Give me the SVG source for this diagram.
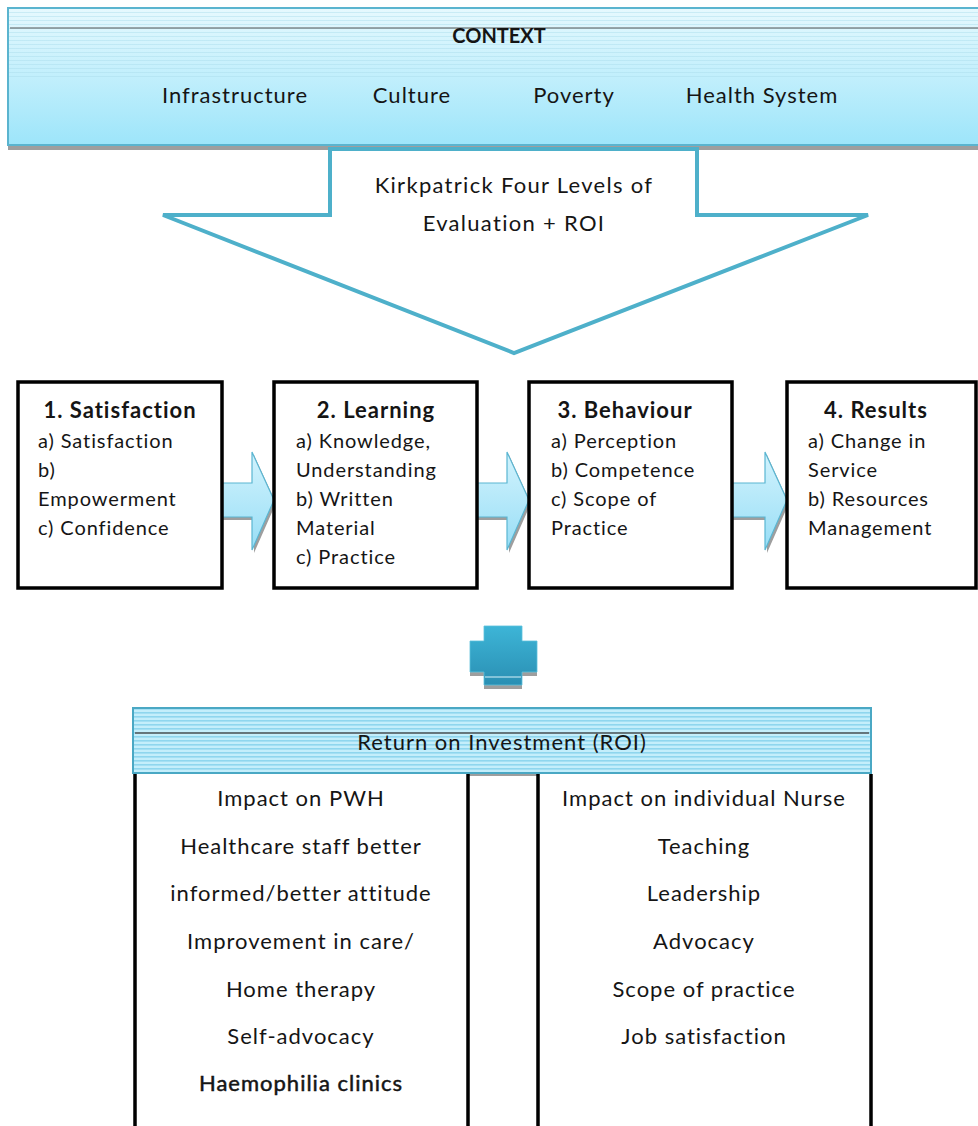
<svg xmlns="http://www.w3.org/2000/svg" width="978" height="1126" viewBox="0 0 978 1126">
<defs>
<linearGradient id="ctxGrad" x1="0" y1="0" x2="0" y2="1">
<stop offset="0" stop-color="#e6f9fe"/>
<stop offset="1" stop-color="#9de5fa"/>
</linearGradient>
<pattern id="fineStripes" x="0" y="0" width="10" height="4" patternUnits="userSpaceOnUse">
<rect x="0" y="0" width="10" height="1" fill="#a8dcec" opacity="0.45"/>
</pattern>
<pattern id="roiStripes" x="0" y="708" width="10" height="4" patternUnits="userSpaceOnUse">
<rect x="0" y="0" width="10" height="4" fill="#c4eefb"/>
<rect x="0" y="0" width="10" height="1.6" fill="#8fd6ee"/>
</pattern>
<linearGradient id="arrowGrad" x1="0" y1="0" x2="0" y2="1">
<stop offset="0" stop-color="#d2f3fd"/>
<stop offset="1" stop-color="#98def6"/>
</linearGradient>
<linearGradient id="plusGrad" x1="0" y1="0" x2="0" y2="1">
<stop offset="0" stop-color="#3db5d7"/>
<stop offset="1" stop-color="#2a8fb3"/>
</linearGradient>
<style>
.t{font-family:Lato,"Open Sans","Liberation Sans",sans-serif;fill:#151515;}
.ctx{font-size:22px;letter-spacing:1px;}
.head{font-size:20px;font-weight:bold;}
.ttl{font-size:22px;font-weight:bold;letter-spacing:1px;}
.itm{font-size:20px;letter-spacing:0.9px;}
.big{font-size:22px;letter-spacing:1px;}
.arr{font-size:22px;letter-spacing:1.3px;}
.med{stroke:#151515;stroke-width:0.5;}
.box{fill:#ffffff;stroke:#000000;stroke-width:3.5;}
.col{stroke:#000000;stroke-width:3.5;fill:none;}
.conn{fill:url(#arrowGrad);stroke:#5ab6d2;stroke-width:1.2;}
.shadow{fill:#9e9e9e;}
</style>
</defs>

<g id="context">
<rect x="8" y="145" width="980" height="5" class="shadow"/>
<rect x="8" y="8" width="980" height="137" fill="url(#ctxGrad)" stroke="#5ab4cf" stroke-width="2"/>
<rect x="9" y="9" width="978" height="70" fill="url(#fineStripes)"/>
<line x1="10" y1="28" x2="978" y2="28" stroke="#555555" stroke-width="1.2"/>
<text class="t head" x="499" y="43" text-anchor="middle">CONTEXT</text>
<text class="t ctx" x="235" y="103" text-anchor="middle">Infrastructure</text>
<text class="t ctx" x="412" y="103" text-anchor="middle">Culture</text>
<text class="t ctx" x="574" y="103" text-anchor="middle">Poverty</text>
<text class="t ctx" x="762" y="103" text-anchor="middle">Health System</text>
</g>

<g id="kirkpatrick-arrow">
<polygon points="330,149 697,149 697,215 868,215 514,353 163,215 330,215" fill="#ffffff" stroke="#4eb0ca" stroke-width="4" stroke-linejoin="miter"/>
<text class="t arr" x="514" y="193" text-anchor="middle" fill="#222">Kirkpatrick Four Levels of</text>
<text class="t arr" x="514" y="231" text-anchor="middle" fill="#222">Evaluation + ROI</text>
</g>

<g id="connectors">
<path class="shadow" d="M222,486 L254,486 L254,455 L276,503 L254,553 L254,520 L222,520 Z"/>
<path class="conn" d="M222,483 L252,483 L252,452 L274,500 L252,550 L252,517 L222,517 Z"/>
<path class="shadow" d="M477,486 L509,486 L509,455 L531,503 L509,553 L509,520 L477,520 Z"/>
<path class="conn" d="M477,483 L507,483 L507,452 L529,500 L507,550 L507,517 L477,517 Z"/>
<path class="shadow" d="M732,486 L767,486 L767,455 L789,503 L767,553 L767,520 L732,520 Z"/>
<path class="conn" d="M732,483 L765,483 L765,452 L787,500 L765,550 L765,517 L732,517 Z"/>
</g>

<g id="level1">
<rect class="box" x="18" y="382" width="204" height="206"/>
<text class="t ttl" x="120" y="418" text-anchor="middle">1. Satisfaction</text>
<text class="t itm" x="38" y="448">a) Satisfaction</text>
<text class="t itm" x="38" y="477">b)</text>
<text class="t itm" x="38" y="506">Empowerment</text>
<text class="t itm" x="38" y="535">c) Confidence</text>
</g>

<g id="level2">
<rect class="box" x="274" y="382" width="203" height="206"/>
<text class="t ttl" x="376" y="418" text-anchor="middle">2. Learning</text>
<text class="t itm" x="296" y="448">a) Knowledge,</text>
<text class="t itm" x="296" y="477">Understanding</text>
<text class="t itm" x="296" y="506">b) Written</text>
<text class="t itm" x="296" y="535">Material</text>
<text class="t itm" x="296" y="564">c) Practice</text>
</g>

<g id="level3">
<rect class="box" x="529" y="382" width="203" height="206"/>
<text class="t ttl" x="625" y="418" text-anchor="middle">3. Behaviour</text>
<text class="t itm" x="551" y="448">a) Perception</text>
<text class="t itm" x="551" y="477">b) Competence</text>
<text class="t itm" x="551" y="506">c) Scope of</text>
<text class="t itm" x="551" y="535">Practice</text>
</g>

<g id="level4">
<rect class="box" x="787" y="382" width="189" height="206"/>
<text class="t ttl" x="876" y="418" text-anchor="middle">4. Results</text>
<text class="t itm" x="808" y="448">a) Change in</text>
<text class="t itm" x="808" y="477">Service</text>
<text class="t itm" x="808" y="506">b) Resources</text>
<text class="t itm" x="808" y="535">Management</text>
</g>

<g id="plus">
<rect x="484" y="684" width="38" height="5" class="shadow"/>
<rect x="470" y="672" width="67" height="4" class="shadow"/>
<path d="M484,626 L522,626 L522,641 L537,641 L537,672 L522,672 L522,685 L484,685 L484,672 L470,672 L470,641 L484,641 Z" fill="url(#plusGrad)" stroke="#5cc0dc" stroke-width="0.8"/>
<line x1="485" y1="677" x2="521" y2="677" stroke="#d8f2fa" stroke-width="1.2"/>
</g>

<g id="roi-header">
<rect x="468" y="772" width="69" height="4" class="shadow"/>
<rect x="133" y="708" width="738" height="65" fill="url(#roiStripes)" stroke="#4aa8c4" stroke-width="2"/>
<line x1="135" y1="733" x2="869" y2="733" stroke="#555555" stroke-width="1.4"/>
<text class="t big" x="502" y="750" text-anchor="middle" fill="#222">Return on Investment (ROI)</text>
</g>

<g id="roi-pwh">
<path class="col" d="M135,774 L135,1130 M468,774 L468,1130"/>
<text class="t big" x="301" y="806" text-anchor="middle">Impact on PWH</text>
<text class="t big" x="301" y="854" text-anchor="middle">Healthcare staff better</text>
<text class="t big" x="301" y="901" text-anchor="middle">informed/better attitude</text>
<text class="t big" x="301" y="949" text-anchor="middle">Improvement in care/</text>
<text class="t big" x="301" y="997" text-anchor="middle">Home therapy</text>
<text class="t big" x="301" y="1044" text-anchor="middle">Self-advocacy</text>
<text class="t big med" x="301" y="1091" text-anchor="middle">Haemophilia clinics</text>
</g>

<g id="roi-nurse">
<path class="col" d="M538,774 L538,1130 M871,774 L871,1130"/>
<text class="t big" x="704" y="806" text-anchor="middle">Impact on individual Nurse</text>
<text class="t big" x="704" y="854" text-anchor="middle">Teaching</text>
<text class="t big" x="704" y="901" text-anchor="middle">Leadership</text>
<text class="t big" x="704" y="949" text-anchor="middle">Advocacy</text>
<text class="t big" x="704" y="997" text-anchor="middle">Scope of practice</text>
<text class="t big" x="704" y="1044" text-anchor="middle">Job satisfaction</text>
</g>
</svg>
